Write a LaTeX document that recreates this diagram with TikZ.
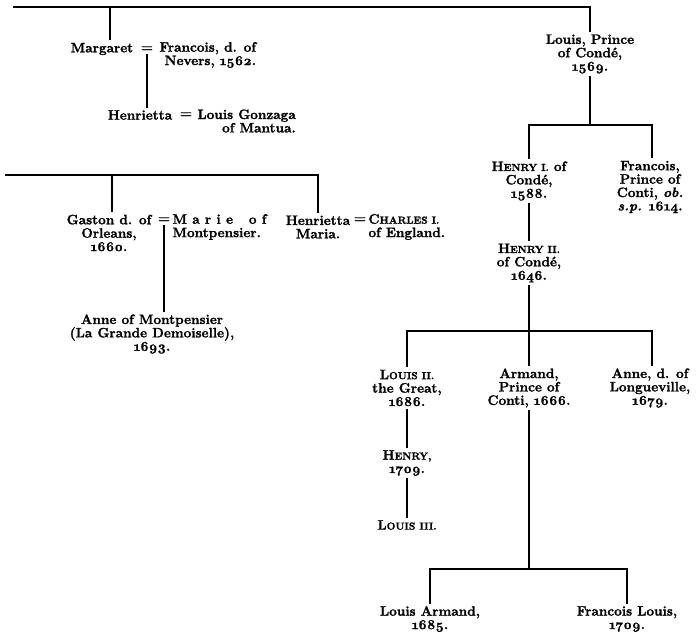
\documentclass[tikz,border=0pt]{standalone}
\usepackage{fontspec}
\setmainfont{Latin Modern Roman}[BoldFeatures={FakeBold=1.6}, BoldItalicFeatures={FakeBold=1.6}]
\newcommand\osn[1]{{\addfontfeature{Numbers=OldStyle}#1}}
\newcommand\fsc[2]{#1{\fontsize{10.2}{13}\selectfont #2}}
\begin{document}
\begin{tikzpicture}[x=1pt,y=-1pt,
  every node/.style={font=\fontsize{13.6}{13.4}\selectfont\bfseries, inner sep=0pt, outer sep=2.5pt},
  blk/.style={align=center},
  lin/.style={line width=1.2pt}]
\useasboundingbox (0,0) rectangle (698,639);
% top section
\node (marg) at (102,49) {Margaret};
\node (eqa) at (147,49) {=};
\node[align=right, anchor=west] (franc) at (157,55) {Francois, d. of\\Nevers, \osn{1562}.};
\node (henr) at (140,115) {Henrietta};
\node (eqb) at (186,115) {=};
\node[align=right, anchor=west] (gonz) at (195,121) {Louis Gonzaga\\of Mantua.};
\node[blk] (louis) at (590,54) {Louis, Prince\\of Condé,\\\osn{1569}.};
\node[blk] (hen1) at (529,181) {\fsc{H}{ENRY I.} of\\Condé,\\\osn{1588}.};
\node[blk] (fran) at (650,187) {Francois,\\Prince of\\Conti, \textit{ob.}\\\textit{s.p.} \osn{1614}.};
\node[blk] (hen2) at (529,263) {\fsc{H}{ENRY II.}\\of Condé,\\\osn{1646}.};
\node[blk] (lou2) at (407,388) {\fsc{L}{OUIS II.}\\the Great,\\\osn{1686}.};
\node[blk] (arm) at (529,388) {Armand,\\Prince of\\Conti, \osn{1666}.};
\node[blk] (anne2) at (650,388) {Anne, d. of\\Longueville,\\\osn{1679}.};
\node[blk] (henry) at (407,463) {\fsc{H}{ENRY,}\\\osn{1709}.};
\node (lou3) at (407,525) {\fsc{L}{OUIS III.}};
\node[blk] (larm) at (430,619) {Louis Armand,\\\osn{1685}.};
\node[blk] (flou) at (627,619) {Francois Louis,\\\osn{1709}.};
% middle left
\node[blk] (gast) at (109,233) {Gaston d. of\\Orleans,\\\osn{1660}.};
\node (eqc) at (164,220) {=};
\node[align=left, anchor=west] (marie) at (170,227) {\hbox to 94pt{M\hfil a\hfil r\hfil i\hfil e\hskip 0pt plus 3fil o\hfil f}\\Montpensier.};
\node[blk] (hmar) at (318,227) {Henrietta\\Maria.};
\node (eqd) at (360,220) {=};
\node[align=left, anchor=west] (charl) at (366,227) {\fsc{C}{HARLES I.}\\of England.};
\node[blk] (anne) at (152,334) {Anne of Montpensier\\(La Grande Demoiselle),\\\osn{1693}.};
% connectors
\coordinate (b0l) at (13,7);
\coordinate (b0r) at (590,7);
\coordinate (c1) at (110,7);
\draw[lin] (b0l) -- (b0r) -- (louis.north);
\draw[lin] (c1) -- (c1 |- marg.north);
\draw[lin] (eqa.south) -- (eqa.south |- henr.north);
\coordinate (b1l) at (529,125);
\coordinate (b1r) at (652,125);
\draw[lin] (louis.south) -- (louis.south |- b1l);
\draw[lin] (b1l |- hen1.north) -- (b1l) -- (b1r) -- (b1r |- fran.north);
\draw[lin] (hen1.south) -- (hen2.north);
\coordinate (b2l) at (407,331);
\coordinate (b2r) at (652,331);
\draw[lin] (hen2.south) -- (hen2.south |- b2l);
\draw[lin] (b2l |- lou2.north) -- (b2l) -- (b2r) -- (b2r |- anne2.north);
\draw[lin] (arm.north) -- (arm.north |- b2l);
\draw[lin] (lou2.south) -- (henry.north);
\draw[lin] (henry.south) -- (lou3.north);
\coordinate (b3l) at (430,569);
\coordinate (b3r) at (627,569);
\draw[lin] (arm.south) -- (arm.south |- b3l);
\draw[lin] (b3l |- larm.north) -- (b3l) -- (b3r) -- (b3r |- flou.north);
\coordinate (b4l) at (5,175);
\coordinate (b4r) at (318,175);
\coordinate (c2) at (112,175);
\draw[lin] (b4l) -- (b4r) -- (hmar.north);
\draw[lin] (c2) -- (c2 |- gast.north);
\draw[lin] (eqc.south) -- (eqc.south |- anne.north);
\end{tikzpicture}
\end{document}
